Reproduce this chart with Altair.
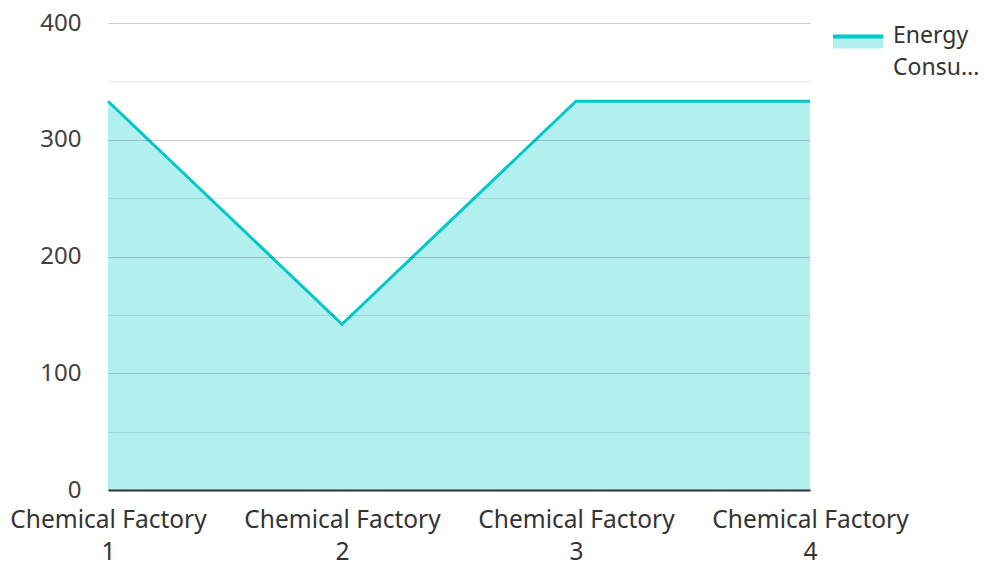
import altair as alt
import pandas as pd

categories = ["Chemical Factory 1", "Chemical Factory 2", "Chemical Factory 3", "Chemical Factory 4"]
energy = [333, 142, 333, 333]
series_name = "Energy Consumption"
y_ticks = [0, 50, 100, 150, 200, 250, 300, 350, 400]

df = pd.DataFrame({"factory": categories, "value": energy, "series": [series_name] * len(categories)})

FONT = "Noto Sans"
LINE = "#00c8c8"
FILL = "#b2efef"
SYMBOL_PATH = "M-1,-0.24L1,-0.24L1,0.24L-1,0.24Z"

x = alt.X(
    "factory:N",
    sort=categories,
    scale=alt.Scale(type="point", padding=0),
    axis=alt.Axis(
        title=None,
        labelAngle=0,
        labelExpr="[substring(datum.label, 0, lastindexof(datum.label, ' ')), substring(datum.label, lastindexof(datum.label, ' ') + 1)]",
        labelFont=FONT,
        labelFontSize=24.5,
        labelColor="#333333",
        labelLineHeight=32,
        labelPadding=18,
        labelLimit=0,
        labelOverlap=False,
        ticks=False,
        domainColor="#333333",
        domainWidth=2,
        grid=False,
        zindex=2,
    ),
)

y = alt.Y(
    "value:Q",
    scale=alt.Scale(domain=[0, 400], nice=False),
    axis=alt.Axis(
        title=None,
        values=y_ticks,
        labelExpr="datum.value % 100 === 0 ? datum.label : ''",
        labelFont=FONT,
        labelFontSize=24,
        labelColor="#404040",
        labelPadding=27,
        ticks=False,
        domain=False,
        gridColor="#000000",
        gridOpacity={"condition": {"test": "datum.value % 100 === 0", "value": 0.2}, "value": 0.1},
        gridWidth=1,
        zindex=1,
    ),
)

legend = alt.Legend(
    title=None,
    orient="none",
    legendX=723,
    legendY=-7.5,
    symbolType=SYMBOL_PATH,
    symbolSize=2500,
    symbolStrokeWidth=4,
    symbolDash=[50, 200],
    symbolOpacity=1,
    labelFont=FONT,
    labelFontSize=23,
    labelColor="#333333",
    labelOffset=8,
    labelLimit=0,
    labelBaseline="alphabetic",
    labelExpr="[split(datum.label, ' ')[0], substring(split(datum.label, ' ')[1], 0, 5) + '...']",
)

fill = alt.Fill("series:N", scale=alt.Scale(domain=[series_name], range=[FILL]), legend=legend)
stroke = alt.Stroke("series:N", scale=alt.Scale(domain=[series_name], range=[LINE]), legend=legend)

area = alt.Chart(df).mark_area(fillOpacity=1).encode(x=x, y=y, fill=fill)
line = alt.Chart(df).mark_line(strokeWidth=3).encode(x=x, y=y, stroke=stroke)

chart = (
    alt.layer(area, line)
    .properties(
        width=702,
        height=467,
        autosize=alt.AutoSizeParams(type="none"),
        padding={"left": 100, "top": 15, "right": 171, "bottom": 72},
    )
    .configure(font=FONT, style={"guide-label": {"lineHeight": 32}})
    .configure_view(strokeWidth=0, stroke="transparent")
)

chart.save("out.html", embed_options={"renderer": "svg", "actions": False})
